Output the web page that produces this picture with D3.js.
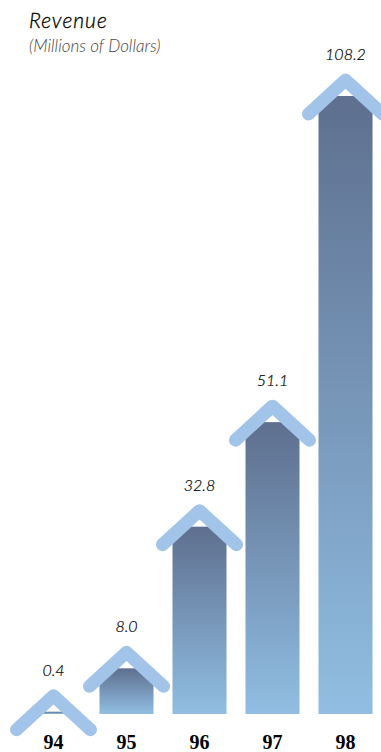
<!DOCTYPE html>
<html>
<head>
<meta charset="utf-8">
<script src="https://cdn.jsdelivr.net/npm/d3@7/dist/d3.min.js"></script>
<style>
  html, body { margin: 0; padding: 0; background: #fff; }
  svg { display: block; }
</style>
</head>
<body>
<svg id="chart" width="381" height="752"></svg>
<script>
// Revenue by fiscal year, millions of dollars
const years = ["94", "95", "96", "97", "98"];
const revenue = [0.4, 8.0, 32.8, 51.1, 108.2];
const valueLabels = ["0.4", "8.0", "32.8", "51.1", "108.2"];

const svg = d3.select("#chart");
const baseY = 714;

const x = d3.scaleBand()
  .domain(years)
  .range([17, 382])
  .paddingInner(0.26)
  .paddingOuter(0.13);

const y = d3.scaleLinear()
  .domain([0, 108.2])
  .range([baseY, 96]);

// vertical gradient applied to each bar's own box
const defs = svg.append("defs");
const grad = defs.append("linearGradient")
  .attr("id", "barGrad")
  .attr("x1", 0).attr("y1", 0).attr("x2", 0).attr("y2", 1);
grad.append("stop").attr("offset", "0%").attr("stop-color", "#5e6f8f");
grad.append("stop").attr("offset", "100%").attr("stop-color", "#90bee2");

// title
svg.append("text")
  .attr("x", 29).attr("y", 28)
  .attr("font-family", "Lato, 'DejaVu Sans', sans-serif")
  .attr("font-style", "italic")
  .attr("font-weight", 300)
  .attr("font-size", 21)
  .attr("letter-spacing", 1)
  .attr("fill", "#000")
  .attr("stroke", "#000")
  .attr("stroke-width", 0.3)
  .text("Revenue");
svg.append("text")
  .attr("x", 29).attr("y", 52)
  .attr("font-family", "Lato, 'DejaVu Sans', sans-serif")
  .attr("font-style", "italic")
  .attr("font-weight", 300)
  .attr("font-size", 17)
  .attr("fill", "#444")
  .text("(Millions of Dollars)");

const g = svg.append("g");
const items = years.map((yr, i) => ({ yr, v: revenue[i], label: valueLabels[i] }));

// bars
g.selectAll("rect.bar")
  .data(items)
  .join("rect")
  .attr("class", "bar")
  .attr("x", d => x(d.yr))
  .attr("y", d => y(d.v))
  .attr("width", x.bandwidth())
  .attr("height", d => baseY - y(d.v))
  .attr("fill", "url(#barGrad)");

// roof chevrons above each bar
const rise = 16, armDx = 37, armDy = 34;
g.selectAll("path.roof")
  .data(items)
  .join("path")
  .attr("class", "roof")
  .attr("d", d => {
    const cx = x(d.yr) + x.bandwidth() / 2;
    const ay = y(d.v) - rise;
    return d3.line()([[cx - armDx, ay + armDy], [cx, ay], [cx + armDx, ay + armDy]]);
  })
  .attr("fill", "none")
  .attr("stroke", "#a2c4e8")
  .attr("stroke-width", 13)
  .attr("stroke-linecap", "round")
  .attr("stroke-linejoin", "round");

// value labels
g.selectAll("text.val")
  .data(items)
  .join("text")
  .attr("class", "val")
  .attr("x", d => x(d.yr) + x.bandwidth() / 2)
  .attr("y", d => y(d.v) - 36)
  .attr("text-anchor", "middle")
  .attr("font-family", "Lato, 'DejaVu Sans', sans-serif")
  .attr("font-style", "italic")
  .attr("font-weight", 300)
  .attr("font-size", 16)
  .attr("fill", "#000")
  .attr("stroke", "#000")
  .attr("stroke-width", 0.2)
  .text(d => d.label);

// year axis
const axis = d3.axisBottom(x).tickSize(0).tickPadding(0);
const ax = svg.append("g")
  .attr("transform", "translate(0, 749)")
  .call(axis);
ax.select(".domain").remove();
ax.selectAll("text")
  .attr("font-family", "'Liberation Serif', 'DejaVu Serif', serif")
  .attr("font-weight", 700)
  .attr("font-size", 20)
  .attr("fill", "#000")
  .attr("dy", 0);
</script>
</body>
</html>
